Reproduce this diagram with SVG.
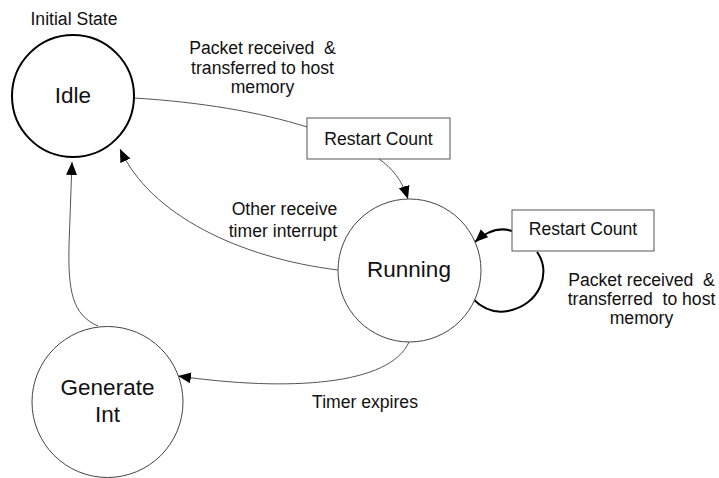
<svg xmlns="http://www.w3.org/2000/svg" width="719" height="478" viewBox="0 0 719 478">
  <style>
    text { font-family: "Liberation Sans", Arial, sans-serif; fill: #111; text-anchor: middle; }
    .lbl { font-size: 17.6px; }
    .pre { white-space: pre; }
    .state { font-size: 22.5px; }
    .node { fill: #fff; stroke: #444; stroke-width: 1; }
    .node-init { fill: #fff; stroke: #000; stroke-width: 2; }
    .box { fill: #fff; stroke: #555; stroke-width: 1; }
    .edge { fill: none; stroke: #555; stroke-width: 1; }
    .edge-bold { fill: none; stroke: #000; stroke-width: 2; }
  </style>
  <defs>
    <marker id="arrow" markerUnits="userSpaceOnUse" markerWidth="14" markerHeight="12" refX="13" refY="5.5" orient="auto">
      <path d="M0,0 L13,5.5 L0,11 z" fill="#000"/>
    </marker>
  </defs>

  <rect width="719" height="478" fill="#fff"/>

  <g id="connectors">
    <!-- Idle to Restart Count, then on to Running -->
    <path class="edge" d="M134,98 C200,102 260,112 307,127"/>
    <path class="edge" d="M379,159 C392,168 402,180 408,199" marker-end="url(#arrow)"/>
    <!-- Running back to Idle -->
    <path class="edge" d="M338,270 C240,258 150,215 120,149" marker-end="url(#arrow)"/>
    <!-- Generate Int back to Idle -->
    <path class="edge" d="M98,326 C72,315 68,290 69,245 L72,162" marker-end="url(#arrow)"/>
    <!-- Running to Generate Int -->
    <path class="edge" d="M409,342 C390,385 290,392 178,376" marker-end="url(#arrow)"/>
    <!-- Self loop on Running -->
    <path class="edge-bold" d="M512,231 C500,227 488,230 475,242" marker-end="url(#arrow)"/>
    <path class="edge-bold" d="M537,252 C552,272 540,305 508,311 C492,314 480,306 473,299"/>
  </g>

  <g id="label-initial">
    <text class="lbl" x="74" y="25">Initial State</text>
  </g>

  <g id="label-idle-running">
    <text class="lbl pre" x="262.5" y="54" xml:space="preserve">Packet received  &amp;</text>
    <text class="lbl" x="262.5" y="74">transferred to host</text>
    <text class="lbl" x="262.5" y="93">memory</text>
  </g>

  <g id="label-other">
    <text class="lbl" x="284.5" y="215">Other receive</text>
    <text class="lbl" x="283" y="237">timer interrupt</text>
  </g>

  <g id="label-self">
    <text class="lbl pre" x="641.5" y="286" xml:space="preserve">Packet received  &amp;</text>
    <text class="lbl pre" x="641.5" y="305" xml:space="preserve">transferred  to host</text>
    <text class="lbl" x="641.5" y="324">memory</text>
  </g>

  <g id="label-timer">
    <text class="lbl" x="365" y="408">Timer expires</text>
  </g>

  <g id="idle">
    <circle class="node-init" cx="73" cy="96" r="61"/>
    <text class="state" x="73" y="103">Idle</text>
  </g>

  <g id="restart-count-1">
    <rect class="box" x="307" y="118" width="143" height="41"/>
    <text class="lbl" x="378.5" y="145">Restart Count</text>
  </g>

  <g id="running">
    <circle class="node" cx="409.5" cy="270.5" r="71.5"/>
    <text class="state" x="409" y="277">Running</text>
  </g>

  <g id="restart-count-2">
    <rect class="box" x="512" y="210" width="142" height="41"/>
    <text class="lbl" x="583" y="235">Restart Count</text>
  </g>

  <g id="generate-int">
    <circle class="node" cx="107.5" cy="402" r="75.5"/>
    <text class="state" x="107.5" y="395">Generate</text>
    <text class="state" x="107.5" y="422">Int</text>
  </g>
</svg>
